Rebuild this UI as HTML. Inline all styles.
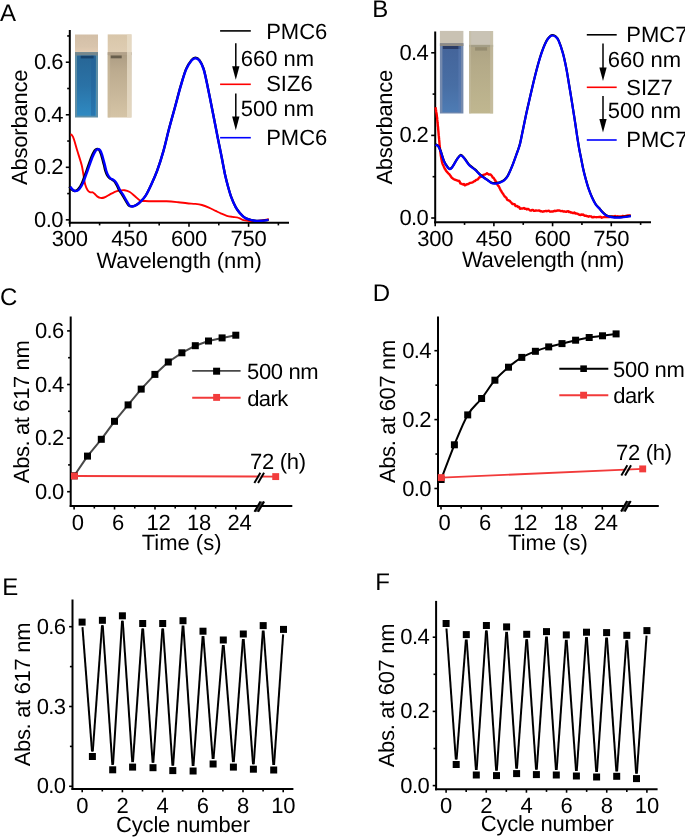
<!DOCTYPE html>
<html><head><meta charset="utf-8"><style>
html,body{margin:0;padding:0;background:#fff;}
body{width:685px;height:838px;overflow:hidden;}
svg{display:block;will-change:transform;}
text{text-rendering:geometricPrecision;font-family:"Liberation Sans", sans-serif;}
</style></head><body>
<svg width="685" height="838" viewBox="0 0 685 838">
<defs><linearGradient id="gA1" x1="0" y1="0" x2="0" y2="1"><stop offset="0" stop-color="#276696"/><stop offset="0.5" stop-color="#2a72a6"/><stop offset="1" stop-color="#2f8ac2"/></linearGradient><linearGradient id="gA1c" x1="0" y1="0" x2="0" y2="1"><stop offset="0" stop-color="#d3bfa7"/><stop offset="0.7" stop-color="#d9c5ad"/><stop offset="1" stop-color="#e3ccb3"/></linearGradient><linearGradient id="gA2" x1="0" y1="0" x2="0" y2="1"><stop offset="0" stop-color="#ab9b82"/><stop offset="0.28" stop-color="#bcab8f"/><stop offset="1" stop-color="#d5c4a6"/></linearGradient><linearGradient id="gA2c" x1="0" y1="0" x2="0" y2="1"><stop offset="0" stop-color="#d8c6aa"/><stop offset="1" stop-color="#dfcdb2"/></linearGradient><linearGradient id="gB1" x1="0" y1="0" x2="0" y2="1"><stop offset="0" stop-color="#44649a"/><stop offset="0.6" stop-color="#486ea4"/><stop offset="1" stop-color="#4e7cb4"/></linearGradient><linearGradient id="gB2" x1="0" y1="0" x2="0" y2="1"><stop offset="0" stop-color="#aca283"/><stop offset="0.3" stop-color="#b4aa88"/><stop offset="1" stop-color="#c0b790"/></linearGradient></defs>
<rect width="685" height="838" fill="#fff"/>
<rect x="75" y="34.5" width="23" height="17.7" fill="url(#gA1c)"/>
<rect x="75" y="52.2" width="23" height="65.3" fill="#5e8ea6"/>
<rect x="75" y="52.2" width="23" height="3.4" fill="#75878d"/>
<rect x="77" y="55.6" width="19" height="60.1" fill="url(#gA1)"/>
<rect x="91" y="55.6" width="4" height="60.1" fill="#22609a" opacity="0.45"/>
<rect x="80.7" y="55.8" width="12.9" height="2.6" fill="#17436d"/>
<rect x="107.7" y="34.4" width="23.8" height="17.8" fill="url(#gA2c)"/>
<rect x="107.7" y="52.2" width="23.8" height="65.3" fill="url(#gA2)"/>
<rect x="107.7" y="52.2" width="23.8" height="2.8" fill="#b3a28a"/>
<rect x="110.7" y="55.5" width="11" height="2.8" fill="#5c5242" opacity="0.85"/>
<rect x="127" y="34.4" width="4.5" height="83.1" fill="#e8ddca" opacity="0.75"/>
<rect x="107.7" y="55.2" width="2.5" height="62.3" fill="#cdbd9f" opacity="0.6"/>
<line x1="69.8" y1="30" x2="69.8" y2="223.8" stroke="#000" stroke-width="2.0"/>
<line x1="68.8" y1="222.8" x2="289" y2="222.8" stroke="#000" stroke-width="2.0"/>
<line x1="65.8" y1="219.85" x2="69.8" y2="219.85" stroke="#000" stroke-width="1.6"/>
<line x1="67.2" y1="193.58" x2="69.8" y2="193.58" stroke="#000" stroke-width="1.6"/>
<line x1="65.8" y1="167.31" x2="69.8" y2="167.31" stroke="#000" stroke-width="1.6"/>
<line x1="67.2" y1="141.04" x2="69.8" y2="141.04" stroke="#000" stroke-width="1.6"/>
<line x1="65.8" y1="114.77" x2="69.8" y2="114.77" stroke="#000" stroke-width="1.6"/>
<line x1="67.2" y1="88.5" x2="69.8" y2="88.5" stroke="#000" stroke-width="1.6"/>
<line x1="65.8" y1="62.23" x2="69.8" y2="62.23" stroke="#000" stroke-width="1.6"/>
<line x1="67.2" y1="35.96" x2="69.8" y2="35.96" stroke="#000" stroke-width="1.6"/>
<line x1="69.8" y1="222.8" x2="69.8" y2="226.8" stroke="#000" stroke-width="1.6"/>
<line x1="99.6" y1="222.8" x2="99.6" y2="225.4" stroke="#000" stroke-width="1.6"/>
<line x1="129.39" y1="222.8" x2="129.39" y2="226.8" stroke="#000" stroke-width="1.6"/>
<line x1="159.19" y1="222.8" x2="159.19" y2="225.4" stroke="#000" stroke-width="1.6"/>
<line x1="188.99" y1="222.8" x2="188.99" y2="226.8" stroke="#000" stroke-width="1.6"/>
<line x1="218.79" y1="222.8" x2="218.79" y2="225.4" stroke="#000" stroke-width="1.6"/>
<line x1="248.58" y1="222.8" x2="248.58" y2="226.8" stroke="#000" stroke-width="1.6"/>
<line x1="278.38" y1="222.8" x2="278.38" y2="225.4" stroke="#000" stroke-width="1.6"/>
<text x="62.8" y="226.85" font-size="22" text-anchor="end" fill="#000" letter-spacing="-0.6">0.0</text>
<text x="62.8" y="174.31" font-size="22" text-anchor="end" fill="#000" letter-spacing="-0.6">0.2</text>
<text x="62.8" y="121.77" font-size="22" text-anchor="end" fill="#000" letter-spacing="-0.6">0.4</text>
<text x="62.8" y="69.23" font-size="22" text-anchor="end" fill="#000" letter-spacing="-0.6">0.6</text>
<text x="69.8" y="246.4" font-size="22" text-anchor="middle" fill="#000" letter-spacing="-0.2">300</text>
<text x="129.39" y="246.4" font-size="22" text-anchor="middle" fill="#000" letter-spacing="-0.2">450</text>
<text x="188.99" y="246.4" font-size="22" text-anchor="middle" fill="#000" letter-spacing="-0.2">600</text>
<text x="248.58" y="246.4" font-size="22" text-anchor="middle" fill="#000" letter-spacing="-0.2">750</text>
<path d="M70.3,134.5 C70.58,134.63 71.38,134.47 72,135.3 C72.62,136.13 73.12,136.92 74,139.5 C74.88,142.08 76.03,146.58 77.3,150.8 C78.57,155.02 80.57,160.77 81.6,164.8 C82.63,168.83 82.92,171.77 83.5,175 C84.08,178.23 84.43,181.72 85.1,184.2 C85.77,186.68 86.7,188.57 87.5,189.9 C88.3,191.23 89.03,191.78 89.9,192.2 C90.77,192.62 91.92,192.13 92.7,192.4 C93.48,192.67 93.8,193.1 94.6,193.8 C95.4,194.5 96.53,195.92 97.5,196.6 C98.47,197.28 99.28,197.75 100.4,197.9 C101.52,198.05 102.6,198.1 104.2,197.5 C105.8,196.9 108.37,195.17 110,194.3 C111.63,193.43 112.5,192.92 114,192.3 C115.5,191.68 117.23,190.95 119,190.6 C120.77,190.25 122.8,189.97 124.6,190.2 C126.4,190.43 128.07,191 129.8,192 C131.53,193 133.3,194.78 135,196.2 C136.7,197.62 138.33,199.7 140,200.5 C141.67,201.3 142.9,200.87 145,201 C147.1,201.13 149,201.25 152.6,201.3 C156.2,201.35 162.33,201.15 166.6,201.3 C170.87,201.45 174.8,201.87 178.2,202.2 C181.6,202.53 184.13,203.02 187,203.3 C189.87,203.58 192.92,203.62 195.4,203.9 C197.88,204.18 199.65,204.38 201.9,205 C204.15,205.62 206.62,206.62 208.9,207.6 C211.18,208.58 213.55,209.9 215.6,210.9 C217.65,211.9 219.33,212.78 221.2,213.6 C223.07,214.42 224.93,215.25 226.8,215.8 C228.67,216.35 230.72,216.63 232.4,216.9 C234.08,217.17 235.58,217.12 236.9,217.4 C238.22,217.68 239.17,218.13 240.3,218.6 C241.43,219.07 242.08,219.8 243.7,220.2 C245.32,220.6 247.72,220.88 250,221 C252.28,221.12 255.23,221.03 257.4,220.9 C259.57,220.77 261.1,220.47 263,220.2 C264.9,219.93 267.83,219.45 268.8,219.3" fill="none" stroke="#f00" stroke-width="1.9" stroke-linejoin="round"/>
<path d="M69.3,186.57 C69.67,187.04 70.63,188.64 71.5,189.38 C72.37,190.11 73.42,190.98 74.5,190.98 C75.58,190.98 76.75,190.73 78,189.38 C79.25,188.02 80.53,186.12 82,182.85 C83.47,179.59 85.22,174.15 86.8,169.8 C88.38,165.45 90.22,159.93 91.5,156.75 C92.78,153.57 93.68,152 94.5,150.72 C95.32,149.45 95.65,149.29 96.4,149.12 C97.15,148.95 98.23,148.87 99,149.72 C99.77,150.57 100.2,151.76 101,154.24 C101.8,156.72 103.1,161.9 103.8,164.58 C104.5,167.26 104.65,168.55 105.2,170.3 C105.75,172.06 106.38,173.8 107.1,175.12 C107.82,176.44 108.7,177.51 109.5,178.23 C110.3,178.95 111.1,178.92 111.9,179.44 C112.7,179.96 113.5,180.39 114.3,181.35 C115.1,182.3 115.92,183.72 116.7,185.16 C117.48,186.6 118.13,188.46 119,189.98 C119.87,191.5 120.9,192.68 121.9,194.3 C122.9,195.92 123.88,197.86 125,199.72 C126.12,201.58 127.51,204.32 128.65,205.44 C129.79,206.56 130.65,206.5 131.84,206.45 C133.03,206.4 134.39,205.91 135.8,205.14 C137.21,204.37 138.65,203.43 140.3,201.83 C141.95,200.22 143.83,198.48 145.7,195.5 C147.57,192.52 149.58,188.12 151.5,183.96 C153.42,179.79 155.23,175.94 157.2,170.5 C159.17,165.07 161.32,158.35 163.3,151.33 C165.28,144.3 167.17,135.68 169.1,128.34 C171.03,120.99 172.98,114.28 174.9,107.25 C176.82,100.22 178.73,92.56 180.6,86.17 C182.47,79.78 184.27,73.28 186.1,68.9 C187.93,64.51 190.05,61.74 191.6,59.86 C193.15,57.99 194.08,57.6 195.4,57.65 C196.72,57.7 198.15,58.37 199.5,60.16 C200.85,61.95 202.28,64.72 203.5,68.4 C204.72,72.08 205.28,75.12 206.8,82.25 C208.32,89.38 211.03,103.27 212.6,111.17 C214.17,119.07 215.23,124.69 216.2,129.64 C217.17,134.59 217.65,137.14 218.4,140.89 C219.15,144.63 219.95,148.37 220.7,152.13 C221.45,155.9 222.17,159.71 222.9,163.48 C223.63,167.24 224.27,170.97 225.1,174.72 C225.93,178.47 226.87,182.22 227.9,185.97 C228.93,189.71 229.98,193.65 231.3,197.21 C232.62,200.77 234.3,204.62 235.8,207.35 C237.3,210.08 238.98,211.99 240.3,213.57 C241.62,215.16 242.4,215.95 243.7,216.89 C245,217.83 246.28,218.56 248.1,219.2 C249.92,219.83 252.35,220.44 254.6,220.7 C256.85,220.97 259.28,220.94 261.6,220.8 C263.92,220.67 267.35,220.05 268.5,219.9" fill="none" stroke="#000" stroke-width="2.3" stroke-linejoin="round"/>
<path d="M70.3,186.7 C70.67,187.17 71.63,188.77 72.5,189.5 C73.37,190.23 74.42,191.1 75.5,191.1 C76.58,191.1 77.75,190.85 79,189.5 C80.25,188.15 81.53,186.25 83,183 C84.47,179.75 86.22,174.33 87.8,170 C89.38,165.67 91.22,160.17 92.5,157 C93.78,153.83 94.68,152.27 95.5,151 C96.32,149.73 96.65,149.57 97.4,149.4 C98.15,149.23 99.23,149.15 100,150 C100.77,150.85 101.2,152.03 102,154.5 C102.8,156.97 104.1,162.13 104.8,164.8 C105.5,167.47 105.65,168.75 106.2,170.5 C106.75,172.25 107.38,173.98 108.1,175.3 C108.82,176.62 109.7,177.68 110.5,178.4 C111.3,179.12 112.1,179.08 112.9,179.6 C113.7,180.12 114.5,180.55 115.3,181.5 C116.1,182.45 116.92,183.87 117.7,185.3 C118.48,186.73 119.13,188.58 120,190.1 C120.87,191.62 121.9,192.78 122.9,194.4 C123.9,196.02 124.9,197.95 126,199.8 C127.1,201.65 128.43,204.38 129.5,205.5 C130.57,206.62 131.32,206.55 132.4,206.5 C133.48,206.45 134.68,205.97 136,205.2 C137.32,204.43 138.68,203.5 140.3,201.9 C141.92,200.3 143.83,198.57 145.7,195.6 C147.57,192.63 149.58,188.25 151.5,184.1 C153.42,179.95 155.23,176.12 157.2,170.7 C159.17,165.28 161.32,158.6 163.3,151.6 C165.28,144.6 167.17,136.02 169.1,128.7 C171.03,121.38 172.98,114.7 174.9,107.7 C176.82,100.7 178.73,93.07 180.6,86.7 C182.47,80.33 184.27,73.87 186.1,69.5 C187.93,65.13 190.05,62.37 191.6,60.5 C193.15,58.63 194.08,58.25 195.4,58.3 C196.72,58.35 198.15,59.02 199.5,60.8 C200.85,62.58 202.28,65.33 203.5,69 C204.72,72.67 205.28,75.7 206.8,82.8 C208.32,89.9 211.03,103.73 212.6,111.6 C214.17,119.47 215.23,125.07 216.2,130 C217.17,134.93 217.65,137.47 218.4,141.2 C219.15,144.93 219.95,148.65 220.7,152.4 C221.45,156.15 222.17,159.95 222.9,163.7 C223.63,167.45 224.27,171.17 225.1,174.9 C225.93,178.63 226.87,182.37 227.9,186.1 C228.93,189.83 229.98,193.75 231.3,197.3 C232.62,200.85 234.3,204.68 235.8,207.4 C237.3,210.12 238.98,212.02 240.3,213.6 C241.62,215.18 242.4,215.97 243.7,216.9 C245,217.83 246.28,218.57 248.1,219.2 C249.92,219.83 252.35,220.43 254.6,220.7 C256.85,220.97 259.28,220.93 261.6,220.8 C263.92,220.67 267.35,220.05 268.5,219.9" fill="none" stroke="#00f" stroke-width="2.4" stroke-linejoin="round"/>
<line x1="220.1" y1="30.9" x2="250.8" y2="30.9" stroke="#000" stroke-width="1.6"/>
<text x="266.2" y="39.3" font-size="22" text-anchor="start" fill="#000">PMC6</text>
<line x1="235.8" y1="43.2" x2="235.8" y2="67.2" stroke="#000" stroke-width="1.5"/>
<path d="M232.15,66.2 L239.45,66.2 L235.8,79.8 Z" fill="#000"/>
<text x="240.8" y="65.9" font-size="22" text-anchor="start" fill="#000">660 nm</text>
<line x1="220.1" y1="84.3" x2="250.8" y2="84.3" stroke="#f00" stroke-width="1.6"/>
<text x="266.2" y="91.1" font-size="22" text-anchor="start" fill="#000">SIZ6</text>
<line x1="235.8" y1="93.6" x2="235.8" y2="117.6" stroke="#000" stroke-width="1.5"/>
<path d="M232.15,116.6 L239.45,116.6 L235.8,130.2 Z" fill="#000"/>
<text x="240.8" y="116" font-size="22" text-anchor="start" fill="#000">500 nm</text>
<line x1="220.1" y1="137.7" x2="250.8" y2="137.7" stroke="#00f" stroke-width="1.6"/>
<text x="266.2" y="144.7" font-size="22" text-anchor="start" fill="#000">PMC6</text>
<text x="26.8" y="127.3" font-size="22" text-anchor="middle" transform="rotate(-90 26.8 127.3)" fill="#000" letter-spacing="-0.22">Absorbance</text>
<text x="179.1" y="267.6" font-size="22" text-anchor="middle" fill="#000" letter-spacing="-0.1">Wavelength (nm)</text>
<text x="0" y="21.4" font-size="24" text-anchor="start" fill="#000">A</text>
<rect x="439.9" y="30.9" width="23.5" height="12.3" fill="#c9c2b3"/>
<rect x="439.9" y="43.2" width="23.5" height="70.3" fill="#7489ad"/>
<rect x="439.9" y="43.2" width="23.5" height="2.8" fill="#8e8b85"/>
<rect x="442.4" y="46" width="18.5" height="66.3" fill="url(#gB1)"/>
<rect x="442.9" y="46" width="17.5" height="3" fill="#2a3c66"/>
<rect x="458.4" y="46" width="2.5" height="66.3" fill="#5b7cb0" opacity="0.6"/>
<rect x="469.1" y="31" width="24" height="13.8" fill="#c9c3b5"/>
<rect x="469.1" y="44.8" width="24" height="68.7" fill="url(#gB2)"/>
<rect x="469.1" y="44.8" width="24" height="2.2" fill="#a49e86"/>
<rect x="475.1" y="47.2" width="12" height="3.4" fill="#8a8268" opacity="0.7"/>
<rect x="490.1" y="31" width="3" height="82.5" fill="#c9c2a6" opacity="0.6"/>
<rect x="469.1" y="31" width="2" height="82.5" fill="#c4bca0" opacity="0.5"/>
<line x1="435.2" y1="31.5" x2="435.2" y2="223.3" stroke="#000" stroke-width="2.0"/>
<line x1="434.2" y1="222.3" x2="651" y2="222.3" stroke="#000" stroke-width="2.0"/>
<line x1="431.2" y1="218" x2="435.2" y2="218" stroke="#000" stroke-width="1.6"/>
<line x1="432.6" y1="176.7" x2="435.2" y2="176.7" stroke="#000" stroke-width="1.6"/>
<line x1="431.2" y1="135.4" x2="435.2" y2="135.4" stroke="#000" stroke-width="1.6"/>
<line x1="432.6" y1="94.1" x2="435.2" y2="94.1" stroke="#000" stroke-width="1.6"/>
<line x1="431.2" y1="52.8" x2="435.2" y2="52.8" stroke="#000" stroke-width="1.6"/>
<line x1="435.2" y1="222.3" x2="435.2" y2="226.3" stroke="#000" stroke-width="1.6"/>
<line x1="464.55" y1="222.3" x2="464.55" y2="224.9" stroke="#000" stroke-width="1.6"/>
<line x1="493.89" y1="222.3" x2="493.89" y2="226.3" stroke="#000" stroke-width="1.6"/>
<line x1="523.24" y1="222.3" x2="523.24" y2="224.9" stroke="#000" stroke-width="1.6"/>
<line x1="552.59" y1="222.3" x2="552.59" y2="226.3" stroke="#000" stroke-width="1.6"/>
<line x1="581.94" y1="222.3" x2="581.94" y2="224.9" stroke="#000" stroke-width="1.6"/>
<line x1="611.28" y1="222.3" x2="611.28" y2="226.3" stroke="#000" stroke-width="1.6"/>
<line x1="640.63" y1="222.3" x2="640.63" y2="224.9" stroke="#000" stroke-width="1.6"/>
<text x="428.2" y="225" font-size="22" text-anchor="end" fill="#000" letter-spacing="-0.6">0.0</text>
<text x="428.2" y="142.4" font-size="22" text-anchor="end" fill="#000" letter-spacing="-0.6">0.2</text>
<text x="428.2" y="59.8" font-size="22" text-anchor="end" fill="#000" letter-spacing="-0.6">0.4</text>
<text x="435.2" y="245.9" font-size="22" text-anchor="middle" fill="#000" letter-spacing="-0.2">300</text>
<text x="493.89" y="245.9" font-size="22" text-anchor="middle" fill="#000" letter-spacing="-0.2">450</text>
<text x="552.59" y="245.9" font-size="22" text-anchor="middle" fill="#000" letter-spacing="-0.2">600</text>
<text x="611.28" y="245.9" font-size="22" text-anchor="middle" fill="#000" letter-spacing="-0.2">750</text>
<path d="M435.5,107.3 L435.58,107.82 L435.69,108.48 L435.82,109.25 L435.97,109.72 L436.12,111.18 L436.29,112.38 L436.45,112.94 L436.61,113.75 L436.76,115.22 L436.9,116.45 L437,117.47 L437.1,117.57 L437.19,118.41 L437.28,119.93 L437.38,120.76 L437.47,122.02 L437.56,122.78 L437.65,123.37 L437.74,124.27 L437.83,126.14 L437.92,126.18 L438.01,126.99 L438.1,127.84 L438.19,129.13 L438.27,130.07 L438.36,130.84 L438.44,131.87 L438.53,132.93 L438.61,134.01 L438.7,135.1 L438.79,135.77 L438.87,136.09 L438.96,137.83 L439.04,138.1 L439.13,139.43 L439.21,139.93 L439.3,141.3 L439.39,142.01 L439.48,143.29 L439.56,145.23 L439.65,145.11 L439.73,146.34 L439.82,146.58 L439.91,147.84 L439.99,149.06 L440.09,149.72 L440.18,150.75 L440.28,151.54 L440.39,152.04 L440.5,153.38 L440.65,154.01 L440.81,155.93 L440.98,156.22 L441.15,157.62 L441.33,158.4 L441.51,159.67 L441.7,160.1 L441.89,161.5 L442.09,161.98 L442.3,163.2 L442.67,164.18 L443.06,165.06 L443.47,165.68 L443.89,167.01 L444.3,167.7 L444.7,168.83 L445.23,169.15 L445.71,170.23 L446.26,171 L447,171.89 L447.56,172.57 L448.21,173.35 L448.92,173.95 L449.66,174.68 L450.39,175.7 L451.08,176.76 L451.7,177.68 L452.64,178.34 L453.49,178.97 L454.26,179.35 L455,179.72 L456.36,180.07 L457.5,180.55 L458.32,181.04 L459,180.7 L459.63,181.52 L460.4,183.43 L461.17,183.43 L462.08,184.16 L463,184.48 L463.87,184.03 L464.75,185.23 L465.7,184.97 L466.74,184.29 L467.85,184.2 L469,183.64 L469.85,183.02 L470.69,182.93 L471.62,182.67 L472.7,182.36 L473.43,181.82 L474.24,181.15 L475.1,181.06 L475.98,179.84 L476.86,179.79 L477.71,179.36 L478.5,178.41 L479.37,177.34 L480.22,177.01 L481.04,176.78 L481.81,176.3 L482.54,176.12 L483.2,174.88 L484.27,174.64 L485.12,174.53 L486,174.05 L487,173.14 L488.03,174.05 L489,174.64 L489.84,174.56 L490.62,174.49 L491.5,175.47 L492.08,176.23 L492.68,177.56 L493.32,177.68 L494.05,178.47 L494.9,180.2 L495.27,180.28 L495.67,181.59 L496.09,181.53 L496.54,182.42 L497,183.65 L497.47,184.76 L497.95,185.42 L498.43,186.21 L498.9,186.42 L499.37,187.64 L499.83,188.51 L500.28,189.31 L500.7,190.39 L501.29,191.05 L501.86,192.33 L502.42,192.99 L502.97,193.69 L503.51,194.63 L504.04,195.49 L504.56,196.35 L505.08,196.6 L505.6,197.33 L506.34,197.82 L507.04,199.49 L507.72,200.08 L508.42,200.16 L509.17,200.68 L510,201.1 L510.7,202.11 L511.46,202.72 L512.25,203.97 L513.07,203.96 L513.9,204.23 L514.71,204.26 L515.48,206.01 L516.2,206.06 L517.23,206.06 L518.17,207.07 L519.08,206.86 L520,208.8 L521,208.36 L521.92,208.44 L522.88,208.44 L523.88,208.03 L524.87,208.87 L525.86,208.61 L526.8,209.49 L527.88,208.84 L528.92,209.46 L529.94,210.34 L530.96,210.66 L532,209.92 L532.97,209.94 L533.86,210.82 L534.79,210.9 L535.9,210.39 L537.3,210.58 L538.06,210.63 L538.9,210.52 L539.81,210.74 L540.76,211.42 L541.76,211.3 L542.78,211.79 L543.82,211.16 L544.87,211.19 L545.9,210.95 L546.92,211.25 L547.9,210.88 L548.86,210.72 L549.83,211.49 L550.79,211.68 L551.75,211.43 L552.72,211.53 L553.68,211.12 L554.65,210.75 L555.61,210.96 L556.57,210.78 L557.54,210.53 L558.5,210.36 L559.46,210.46 L560.43,210.97 L561.39,211.08 L562.35,210.94 L563.32,211.63 L564.28,211.32 L565.25,211.55 L566.21,211.86 L567.17,211.34 L568.14,211.11 L569.1,212.14 L569.98,211.84 L570.87,212.67 L571.75,212.56 L572.63,212.99 L573.52,213.14 L574.4,212.47 L575.28,213.6 L576.17,213.4 L577.05,213.61 L577.93,213.94 L578.82,214.54 L579.7,214.78 L580.58,215.02 L581.47,214.37 L582.35,214.91 L583.24,214.53 L584.12,215.45 L585.01,215.87 L585.89,215.61 L586.77,216.11 L587.66,216.27 L588.54,216.67 L589.42,216.22 L590.3,216.33 L591.26,216.47 L592.21,217.37 L593.17,217.25 L594.12,216.93 L595.07,217.1 L596.03,217.12 L596.98,217.18 L597.93,217.08 L598.89,217.07 L599.84,216.79 L600.8,216.99 L601.77,217.73 L602.75,217.36 L603.74,217.18 L604.73,217.06 L605.72,217.11 L606.71,217.15 L607.69,216.78 L608.65,217 L609.59,216.96 L610.51,216.6 L611.4,216.55 L612.43,216.44 L613.4,216.38 L614.33,216.96 L615.23,215.88 L616.13,216.51 L617.04,216.36 L617.97,216.31 L618.95,216.49 L620,216.76 L620.86,216.37 L621.81,216.25 L622.82,216.03 L623.87,216.12 L624.93,216.39 L625.99,215.9 L627.01,215.59 L627.99,215.49 L628.89,215.48 L629.69,215.33 L630.37,215.73 L630.9,215.7" fill="none" stroke="#f00" stroke-width="2.4" stroke-linejoin="round"/>
<path d="M435.5,144.3 C435.93,144.53 437.27,144.67 438.1,145.7 C438.93,146.73 439.5,147.92 440.5,150.5 C441.5,153.08 443.02,158.6 444.1,161.2 C445.18,163.8 446.1,164.83 447,166.1 C447.9,167.37 448.75,168.5 449.5,168.8 C450.25,169.1 450.82,168.57 451.5,167.9 C452.18,167.23 452.65,166.32 453.6,164.8 C454.55,163.28 456,160.45 457.2,158.8 C458.4,157.15 459.6,155 460.8,154.9 C462,154.8 463,156.55 464.4,158.2 C465.8,159.85 467.43,162.93 469.2,164.8 C470.97,166.67 473.05,167.67 475,169.4 C476.95,171.13 478.95,173.55 480.9,175.2 C482.85,176.85 485.15,178.18 486.7,179.3 C488.25,180.42 489.13,181.27 490.2,181.9 C491.27,182.53 491.93,182.93 493.1,183.1 C494.27,183.27 495.93,183.1 497.2,182.9 C498.47,182.7 499.53,182.4 500.7,181.9 C501.87,181.4 503.03,180.92 504.2,179.9 C505.37,178.88 506.33,178.23 507.7,175.8 C509.07,173.37 510.83,169.2 512.4,165.3 C513.97,161.4 515.87,155.88 517.1,152.4 C518.33,148.92 518.88,147.92 519.8,144.4 C520.72,140.88 521.57,136.23 522.6,131.3 C523.63,126.37 524.87,120.07 526,114.8 C527.13,109.53 528.25,104.73 529.4,99.7 C530.55,94.67 531.75,89.42 532.9,84.6 C534.05,79.78 535.17,75.15 536.3,70.8 C537.43,66.45 538.55,62.27 539.7,58.5 C540.85,54.73 542.05,51.18 543.2,48.2 C544.35,45.22 545.47,42.6 546.6,40.6 C547.73,38.6 548.97,37.12 550,36.2 C551.03,35.28 551.87,35.07 552.8,35.1 C553.73,35.13 554.62,35.48 555.6,36.4 C556.58,37.32 557.48,37.83 558.7,40.6 C559.92,43.37 561.63,48.42 562.9,53 C564.17,57.58 565.27,62.83 566.3,68.1 C567.33,73.37 568.18,79.1 569.1,84.6 C570.02,90.1 570.88,95.38 571.8,101.1 C572.72,106.82 573.68,112.9 574.6,118.9 C575.52,124.9 576.52,132.05 577.3,137.1 C578.08,142.15 578.63,145.52 579.3,149.2 C579.97,152.88 580.65,155.93 581.3,159.2 C581.95,162.47 582.47,165.55 583.2,168.8 C583.93,172.05 584.8,175.42 585.7,178.7 C586.6,181.98 587.55,185.43 588.6,188.5 C589.65,191.57 590.78,194.43 592,197.1 C593.22,199.77 594.67,202.65 595.9,204.5 C597.13,206.35 598.33,206.98 599.4,208.2 C600.47,209.42 601.17,210.65 602.3,211.8 C603.43,212.95 604.73,214.28 606.2,215.1 C607.67,215.92 608.8,216.35 611.1,216.7 C613.4,217.05 616.7,217.35 620,217.2 C623.3,217.05 629.08,216.03 630.9,215.8" fill="none" stroke="#000" stroke-width="2.2" stroke-linejoin="round"/>
<path d="M435.5,144.7 C435.93,144.93 437.27,145.07 438.1,146.1 C438.93,147.13 439.5,148.32 440.5,150.9 C441.5,153.48 443.02,159 444.1,161.6 C445.18,164.2 446.1,165.23 447,166.5 C447.9,167.77 448.75,168.9 449.5,169.2 C450.25,169.5 450.82,168.97 451.5,168.3 C452.18,167.63 452.65,166.72 453.6,165.2 C454.55,163.68 456,160.85 457.2,159.2 C458.4,157.55 459.6,155.4 460.8,155.3 C462,155.2 463,156.95 464.4,158.6 C465.8,160.25 467.43,163.33 469.2,165.2 C470.97,167.07 473.05,168.07 475,169.8 C476.95,171.53 478.95,173.95 480.9,175.6 C482.85,177.25 485.15,178.58 486.7,179.7 C488.25,180.82 489.13,181.67 490.2,182.3 C491.27,182.93 491.93,183.33 493.1,183.5 C494.27,183.67 495.93,183.5 497.2,183.3 C498.47,183.1 499.53,182.8 500.7,182.3 C501.87,181.8 503.03,181.32 504.2,180.3 C505.37,179.28 506.33,178.63 507.7,176.2 C509.07,173.77 510.83,169.6 512.4,165.7 C513.97,161.8 515.87,156.28 517.1,152.8 C518.33,149.32 518.88,148.32 519.8,144.8 C520.72,141.28 521.57,136.63 522.6,131.7 C523.63,126.77 524.87,120.47 526,115.2 C527.13,109.93 528.25,105.13 529.4,100.1 C530.55,95.07 531.75,89.82 532.9,85 C534.05,80.18 535.17,75.55 536.3,71.2 C537.43,66.85 538.55,62.67 539.7,58.9 C540.85,55.13 542.05,51.58 543.2,48.6 C544.35,45.62 545.47,43 546.6,41 C547.73,39 548.97,37.52 550,36.6 C551.03,35.68 551.87,35.47 552.8,35.5 C553.73,35.53 554.62,35.88 555.6,36.8 C556.58,37.72 557.48,38.23 558.7,41 C559.92,43.77 561.63,48.82 562.9,53.4 C564.17,57.98 565.27,63.23 566.3,68.5 C567.33,73.77 568.18,79.5 569.1,85 C570.02,90.5 570.88,95.78 571.8,101.5 C572.72,107.22 573.68,113.3 574.6,119.3 C575.52,125.3 576.52,132.45 577.3,137.5 C578.08,142.55 578.63,145.92 579.3,149.6 C579.97,153.28 580.65,156.33 581.3,159.6 C581.95,162.87 582.47,165.95 583.2,169.2 C583.93,172.45 584.8,175.82 585.7,179.1 C586.6,182.38 587.55,185.83 588.6,188.9 C589.65,191.97 590.78,194.83 592,197.5 C593.22,200.17 594.67,203.05 595.9,204.9 C597.13,206.75 598.33,207.38 599.4,208.6 C600.47,209.82 601.17,211.05 602.3,212.2 C603.43,213.35 604.73,214.68 606.2,215.5 C607.67,216.32 608.8,216.75 611.1,217.1 C613.4,217.45 616.7,217.75 620,217.6 C623.3,217.45 629.08,216.43 630.9,216.2" fill="none" stroke="#00f" stroke-width="2.2" stroke-linejoin="round"/>
<line x1="586.8" y1="34.8" x2="616.7" y2="34.8" stroke="#000" stroke-width="1.6"/>
<text x="626.3" y="42.1" font-size="22" text-anchor="start" fill="#000">PMC7</text>
<line x1="603" y1="43.4" x2="603" y2="68.4" stroke="#000" stroke-width="1.5"/>
<path d="M599.35,67.4 L606.65,67.4 L603,81 Z" fill="#000"/>
<text x="607.8" y="66.7" font-size="22" text-anchor="start" fill="#000">660 nm</text>
<line x1="586.8" y1="87.3" x2="616.7" y2="87.3" stroke="#f00" stroke-width="1.6"/>
<text x="626.3" y="94.9" font-size="22" text-anchor="start" fill="#000">SIZ7</text>
<line x1="603" y1="96" x2="603" y2="120" stroke="#000" stroke-width="1.5"/>
<path d="M599.35,119 L606.65,119 L603,132.6 Z" fill="#000"/>
<text x="607.8" y="118.3" font-size="22" text-anchor="start" fill="#000">500 nm</text>
<line x1="586.8" y1="140" x2="616.7" y2="140" stroke="#00f" stroke-width="1.6"/>
<text x="626.3" y="147.3" font-size="22" text-anchor="start" fill="#000">PMC7</text>
<text x="392.5" y="127.3" font-size="22" text-anchor="middle" transform="rotate(-90 392.5 127.3)" fill="#000" letter-spacing="-0.3">Absorbance</text>
<text x="543" y="266.6" font-size="22" text-anchor="middle" fill="#000" letter-spacing="-0.3">Wavelength (nm)</text>
<text x="372.2" y="16.6" font-size="24" text-anchor="start" fill="#000">B</text>
<line x1="70.7" y1="316.5" x2="70.7" y2="506.9" stroke="#000" stroke-width="2.0"/>
<line x1="69.7" y1="505.9" x2="292.3" y2="505.9" stroke="#000" stroke-width="2.0"/>
<line x1="67.1" y1="491.7" x2="70.7" y2="491.7" stroke="#000" stroke-width="1.6"/>
<line x1="68.1" y1="464.9" x2="70.7" y2="464.9" stroke="#000" stroke-width="1.6"/>
<line x1="67.1" y1="438.1" x2="70.7" y2="438.1" stroke="#000" stroke-width="1.6"/>
<line x1="68.1" y1="411.3" x2="70.7" y2="411.3" stroke="#000" stroke-width="1.6"/>
<line x1="67.1" y1="384.5" x2="70.7" y2="384.5" stroke="#000" stroke-width="1.6"/>
<line x1="68.1" y1="357.7" x2="70.7" y2="357.7" stroke="#000" stroke-width="1.6"/>
<line x1="67.1" y1="330.9" x2="70.7" y2="330.9" stroke="#000" stroke-width="1.6"/>
<line x1="74.1" y1="505.9" x2="74.1" y2="509.5" stroke="#000" stroke-width="1.6"/>
<line x1="94.32" y1="505.9" x2="94.32" y2="508.5" stroke="#000" stroke-width="1.6"/>
<line x1="114.54" y1="505.9" x2="114.54" y2="509.5" stroke="#000" stroke-width="1.6"/>
<line x1="134.76" y1="505.9" x2="134.76" y2="508.5" stroke="#000" stroke-width="1.6"/>
<line x1="154.98" y1="505.9" x2="154.98" y2="509.5" stroke="#000" stroke-width="1.6"/>
<line x1="175.2" y1="505.9" x2="175.2" y2="508.5" stroke="#000" stroke-width="1.6"/>
<line x1="195.42" y1="505.9" x2="195.42" y2="509.5" stroke="#000" stroke-width="1.6"/>
<line x1="215.64" y1="505.9" x2="215.64" y2="508.5" stroke="#000" stroke-width="1.6"/>
<line x1="235.86" y1="505.9" x2="235.86" y2="509.5" stroke="#000" stroke-width="1.6"/>
<text x="63.7" y="498.7" font-size="22" text-anchor="end" fill="#000" letter-spacing="-0.6">0.0</text>
<text x="63.7" y="445.1" font-size="22" text-anchor="end" fill="#000" letter-spacing="-0.6">0.2</text>
<text x="63.7" y="391.5" font-size="22" text-anchor="end" fill="#000" letter-spacing="-0.6">0.4</text>
<text x="63.7" y="337.9" font-size="22" text-anchor="end" fill="#000" letter-spacing="-0.6">0.6</text>
<text x="77.7" y="529.5" font-size="22" text-anchor="middle" fill="#000" letter-spacing="-0.2">0</text>
<text x="118.14" y="529.5" font-size="22" text-anchor="middle" fill="#000" letter-spacing="-0.2">6</text>
<text x="158.58" y="529.5" font-size="22" text-anchor="middle" fill="#000" letter-spacing="-0.2">12</text>
<text x="199.02" y="529.5" font-size="22" text-anchor="middle" fill="#000" letter-spacing="-0.2">18</text>
<text x="239.46" y="529.5" font-size="22" text-anchor="middle" fill="#000" letter-spacing="-0.2">24</text>
<path d="M254.45,511.8 L260.45,501.4 L264.15,501.4 L258.15,511.8 Z" fill="#333" opacity="0.9"/>
<line x1="254.45" y1="511.8" x2="260.45" y2="501.4" stroke="#000" stroke-width="1.95"/>
<line x1="258.15" y1="511.8" x2="264.15" y2="501.4" stroke="#000" stroke-width="1.95"/>
<path d="M74.2,475.8 L87.5,456.1 L101.3,439.3 L114.5,421.3 L128.1,404.9 L141.2,389.1 L154.9,374.4 L168.3,362 L181.9,352.8 L195.3,345.7 L208.5,341 L222.1,337.9 L235.8,335.2" fill="none" stroke="#484848" stroke-width="2.0" stroke-linejoin="round"/>
<rect x="70.7" y="472.3" width="7" height="7" fill="#000"/>
<rect x="84" y="452.6" width="7" height="7" fill="#000"/>
<rect x="97.8" y="435.8" width="7" height="7" fill="#000"/>
<rect x="111" y="417.8" width="7" height="7" fill="#000"/>
<rect x="124.6" y="401.4" width="7" height="7" fill="#000"/>
<rect x="137.7" y="385.6" width="7" height="7" fill="#000"/>
<rect x="151.4" y="370.9" width="7" height="7" fill="#000"/>
<rect x="164.8" y="358.5" width="7" height="7" fill="#000"/>
<rect x="178.4" y="349.3" width="7" height="7" fill="#000"/>
<rect x="191.8" y="342.2" width="7" height="7" fill="#000"/>
<rect x="205" y="337.5" width="7" height="7" fill="#000"/>
<rect x="218.6" y="334.4" width="7" height="7" fill="#000"/>
<rect x="232.3" y="331.7" width="7" height="7" fill="#000"/>
<line x1="74.4" y1="476" x2="275.7" y2="476.6" stroke="#f23a3a" stroke-width="1.9"/>
<rect x="70.95" y="472.55" width="6.9" height="6.9" fill="#f23c3c"/>
<rect x="272.25" y="473.15" width="6.9" height="6.9" fill="#f23c3c"/>
<path d="M254.35,483.1 L260.35,472.7 L264.05,472.7 L258.05,483.1 Z" fill="#fff" opacity="0.7"/>
<line x1="254.35" y1="483.1" x2="260.35" y2="472.7" stroke="#000" stroke-width="1.95"/>
<line x1="258.05" y1="483.1" x2="264.05" y2="472.7" stroke="#000" stroke-width="1.95"/>
<line x1="192.2" y1="370.9" x2="240.6" y2="370.9" stroke="#484848" stroke-width="1.8"/>
<rect x="213.1" y="367.7" width="7" height="7" fill="#000"/>
<text x="247" y="379" font-size="22" text-anchor="start" fill="#000" letter-spacing="-0.35">500 nm</text>
<line x1="192.2" y1="397.8" x2="240.6" y2="397.8" stroke="#f23a3a" stroke-width="2.0"/>
<rect x="213.15" y="393.95" width="6.9" height="6.9" fill="#f23c3c"/>
<text x="247.2" y="405.6" font-size="22" text-anchor="start" fill="#000" letter-spacing="-0.55">dark</text>
<text x="250" y="468.6" font-size="22" text-anchor="start" fill="#000" letter-spacing="-0.3">72 (h)</text>
<text x="28.6" y="411.9" font-size="22" text-anchor="middle" transform="rotate(-90 28.6 411.9)" fill="#000" letter-spacing="-0.39">Abs. at 617 nm</text>
<text x="181.6" y="550.4" font-size="22" text-anchor="middle" fill="#000">Time (s)</text>
<text x="0" y="305" font-size="24" text-anchor="start" fill="#000">C</text>
<line x1="438" y1="316.5" x2="438" y2="507" stroke="#000" stroke-width="2.0"/>
<line x1="437" y1="506" x2="658.8" y2="506" stroke="#000" stroke-width="2.0"/>
<line x1="434.4" y1="488.5" x2="438" y2="488.5" stroke="#000" stroke-width="1.6"/>
<line x1="435.4" y1="454.05" x2="438" y2="454.05" stroke="#000" stroke-width="1.6"/>
<line x1="434.4" y1="419.6" x2="438" y2="419.6" stroke="#000" stroke-width="1.6"/>
<line x1="435.4" y1="385.15" x2="438" y2="385.15" stroke="#000" stroke-width="1.6"/>
<line x1="434.4" y1="350.7" x2="438" y2="350.7" stroke="#000" stroke-width="1.6"/>
<line x1="441" y1="506" x2="441" y2="509.6" stroke="#000" stroke-width="1.6"/>
<line x1="461.16" y1="506" x2="461.16" y2="508.6" stroke="#000" stroke-width="1.6"/>
<line x1="481.32" y1="506" x2="481.32" y2="509.6" stroke="#000" stroke-width="1.6"/>
<line x1="501.48" y1="506" x2="501.48" y2="508.6" stroke="#000" stroke-width="1.6"/>
<line x1="521.64" y1="506" x2="521.64" y2="509.6" stroke="#000" stroke-width="1.6"/>
<line x1="541.8" y1="506" x2="541.8" y2="508.6" stroke="#000" stroke-width="1.6"/>
<line x1="561.96" y1="506" x2="561.96" y2="509.6" stroke="#000" stroke-width="1.6"/>
<line x1="582.12" y1="506" x2="582.12" y2="508.6" stroke="#000" stroke-width="1.6"/>
<line x1="602.28" y1="506" x2="602.28" y2="509.6" stroke="#000" stroke-width="1.6"/>
<text x="431" y="495.5" font-size="22" text-anchor="end" fill="#000" letter-spacing="-0.6">0.0</text>
<text x="431" y="426.6" font-size="22" text-anchor="end" fill="#000" letter-spacing="-0.6">0.2</text>
<text x="431" y="357.7" font-size="22" text-anchor="end" fill="#000" letter-spacing="-0.6">0.4</text>
<text x="444.6" y="529.6" font-size="22" text-anchor="middle" fill="#000" letter-spacing="-0.2">0</text>
<text x="484.92" y="529.6" font-size="22" text-anchor="middle" fill="#000" letter-spacing="-0.2">6</text>
<text x="525.24" y="529.6" font-size="22" text-anchor="middle" fill="#000" letter-spacing="-0.2">12</text>
<text x="565.56" y="529.6" font-size="22" text-anchor="middle" fill="#000" letter-spacing="-0.2">18</text>
<text x="605.88" y="529.6" font-size="22" text-anchor="middle" fill="#000" letter-spacing="-0.2">24</text>
<path d="M621.05,511.4 L627.05,501 L630.75,501 L624.75,511.4 Z" fill="#333" opacity="0.9"/>
<line x1="621.05" y1="511.4" x2="627.05" y2="501" stroke="#000" stroke-width="1.95"/>
<line x1="624.75" y1="511.4" x2="630.75" y2="501" stroke="#000" stroke-width="1.95"/>
<path d="M441.1,479.5 C443.32,473.72 449.97,455.57 454.4,444.8 C458.83,434.03 463.17,422.62 467.7,414.9 C472.23,407.18 477.07,404.28 481.6,398.5 C486.13,392.72 490.42,385.42 494.9,380.2 C499.38,374.98 504.02,371 508.5,367.2 C512.98,363.4 517.32,360.05 521.8,357.4 C526.28,354.75 530.92,353.05 535.4,351.3 C539.88,349.55 544.27,348.18 548.7,346.9 C553.13,345.62 557.52,344.72 562,343.6 C566.48,342.48 571.07,341.22 575.6,340.2 C580.13,339.18 584.72,338.23 589.2,337.5 C593.68,336.77 598.02,336.4 602.5,335.8 C606.98,335.2 613.83,334.22 616.1,333.9" fill="none" stroke="#000" stroke-width="2"/>
<rect x="437.6" y="476" width="7" height="7" fill="#000"/>
<rect x="450.9" y="441.3" width="7" height="7" fill="#000"/>
<rect x="464.2" y="411.4" width="7" height="7" fill="#000"/>
<rect x="478.1" y="395" width="7" height="7" fill="#000"/>
<rect x="491.4" y="376.7" width="7" height="7" fill="#000"/>
<rect x="505" y="363.7" width="7" height="7" fill="#000"/>
<rect x="518.3" y="353.9" width="7" height="7" fill="#000"/>
<rect x="531.9" y="347.8" width="7" height="7" fill="#000"/>
<rect x="545.2" y="343.4" width="7" height="7" fill="#000"/>
<rect x="558.5" y="340.1" width="7" height="7" fill="#000"/>
<rect x="572.1" y="336.7" width="7" height="7" fill="#000"/>
<rect x="585.7" y="334" width="7" height="7" fill="#000"/>
<rect x="599" y="332.3" width="7" height="7" fill="#000"/>
<rect x="612.6" y="330.4" width="7" height="7" fill="#000"/>
<line x1="441.3" y1="477.6" x2="642.7" y2="468.9" stroke="#f23a3a" stroke-width="1.9"/>
<rect x="437.85" y="474.15" width="6.9" height="6.9" fill="#f23c3c"/>
<rect x="639.25" y="465.45" width="6.9" height="6.9" fill="#f23c3c"/>
<path d="M621.35,475.6 L627.35,465.2 L631.05,465.2 L625.05,475.6 Z" fill="#fff" opacity="0.7"/>
<line x1="621.35" y1="475.6" x2="627.35" y2="465.2" stroke="#000" stroke-width="1.95"/>
<line x1="625.05" y1="475.6" x2="631.05" y2="465.2" stroke="#000" stroke-width="1.95"/>
<line x1="559.3" y1="368.8" x2="608.3" y2="368.8" stroke="#000" stroke-width="2"/>
<rect x="580.3" y="365.4" width="6.6" height="6.6" fill="#000"/>
<text x="613.1" y="377" font-size="22" text-anchor="start" fill="#000" letter-spacing="-0.33">500 nm</text>
<line x1="559.3" y1="395.2" x2="608.3" y2="395.2" stroke="#f23a3a" stroke-width="2.0"/>
<rect x="580.15" y="391.75" width="6.9" height="6.9" fill="#f23c3c"/>
<text x="613.3" y="403" font-size="22" text-anchor="start" fill="#000" letter-spacing="-0.53">dark</text>
<text x="616" y="460.3" font-size="22" text-anchor="start" fill="#000" letter-spacing="-0.3">72 (h)</text>
<text x="395.2" y="411.6" font-size="22" text-anchor="middle" transform="rotate(-90 395.2 411.6)" fill="#000" letter-spacing="-0.36">Abs. at 607 nm</text>
<text x="548" y="550.4" font-size="22" text-anchor="middle" fill="#000">Time (s)</text>
<text x="372.8" y="300.7" font-size="24" text-anchor="start" fill="#000">D</text>
<line x1="72.5" y1="599.5" x2="72.5" y2="789.9" stroke="#000" stroke-width="2.0"/>
<line x1="71.5" y1="788.9" x2="293.4" y2="788.9" stroke="#000" stroke-width="2.0"/>
<line x1="69.1" y1="786.3" x2="72.5" y2="786.3" stroke="#000" stroke-width="1.6"/>
<line x1="69.9" y1="746.4" x2="72.5" y2="746.4" stroke="#000" stroke-width="1.6"/>
<line x1="69.1" y1="706.5" x2="72.5" y2="706.5" stroke="#000" stroke-width="1.6"/>
<line x1="69.9" y1="666.6" x2="72.5" y2="666.6" stroke="#000" stroke-width="1.6"/>
<line x1="69.1" y1="626.7" x2="72.5" y2="626.7" stroke="#000" stroke-width="1.6"/>
<line x1="82.2" y1="788.9" x2="82.2" y2="792.3" stroke="#000" stroke-width="1.6"/>
<line x1="102.3" y1="788.9" x2="102.3" y2="791.5" stroke="#000" stroke-width="1.6"/>
<line x1="122.4" y1="788.9" x2="122.4" y2="792.3" stroke="#000" stroke-width="1.6"/>
<line x1="142.5" y1="788.9" x2="142.5" y2="791.5" stroke="#000" stroke-width="1.6"/>
<line x1="162.6" y1="788.9" x2="162.6" y2="792.3" stroke="#000" stroke-width="1.6"/>
<line x1="182.7" y1="788.9" x2="182.7" y2="791.5" stroke="#000" stroke-width="1.6"/>
<line x1="202.8" y1="788.9" x2="202.8" y2="792.3" stroke="#000" stroke-width="1.6"/>
<line x1="222.9" y1="788.9" x2="222.9" y2="791.5" stroke="#000" stroke-width="1.6"/>
<line x1="243" y1="788.9" x2="243" y2="792.3" stroke="#000" stroke-width="1.6"/>
<line x1="263.1" y1="788.9" x2="263.1" y2="791.5" stroke="#000" stroke-width="1.6"/>
<line x1="283.2" y1="788.9" x2="283.2" y2="792.3" stroke="#000" stroke-width="1.6"/>
<text x="65.5" y="793.3" font-size="22" text-anchor="end" fill="#000" letter-spacing="-0.6">0.0</text>
<text x="65.5" y="713.5" font-size="22" text-anchor="end" fill="#000" letter-spacing="-0.6">0.3</text>
<text x="65.5" y="633.7" font-size="22" text-anchor="end" fill="#000" letter-spacing="-0.6">0.6</text>
<text x="82.2" y="812.5" font-size="22" text-anchor="middle" fill="#000" letter-spacing="-0.2">0</text>
<text x="122.4" y="812.5" font-size="22" text-anchor="middle" fill="#000" letter-spacing="-0.2">2</text>
<text x="162.6" y="812.5" font-size="22" text-anchor="middle" fill="#000" letter-spacing="-0.2">4</text>
<text x="202.8" y="812.5" font-size="22" text-anchor="middle" fill="#000" letter-spacing="-0.2">6</text>
<text x="243" y="812.5" font-size="22" text-anchor="middle" fill="#000" letter-spacing="-0.2">8</text>
<text x="283.2" y="812.5" font-size="22" text-anchor="middle" fill="#000" letter-spacing="-0.2">10</text>
<line x1="82.48" y1="627.09" x2="92.02" y2="751.51" stroke="#000" stroke-width="2.0"/>
<line x1="92.77" y1="751.51" x2="102.03" y2="625.29" stroke="#000" stroke-width="2.0"/>
<line x1="102.74" y1="625.29" x2="112.36" y2="764.81" stroke="#000" stroke-width="2.0"/>
<line x1="113.01" y1="764.81" x2="122.09" y2="620.79" stroke="#000" stroke-width="2.0"/>
<line x1="122.74" y1="620.79" x2="132.26" y2="762.11" stroke="#000" stroke-width="2.0"/>
<line x1="132.95" y1="762.11" x2="142.35" y2="628.49" stroke="#000" stroke-width="2.0"/>
<line x1="143.06" y1="628.49" x2="152.64" y2="762.71" stroke="#000" stroke-width="2.0"/>
<line x1="153.34" y1="762.71" x2="162.36" y2="628.49" stroke="#000" stroke-width="2.0"/>
<line x1="163.04" y1="628.49" x2="172.46" y2="765.61" stroke="#000" stroke-width="2.0"/>
<line x1="173.14" y1="765.61" x2="182.66" y2="625.69" stroke="#000" stroke-width="2.0"/>
<line x1="183.34" y1="625.69" x2="192.76" y2="766.01" stroke="#000" stroke-width="2.0"/>
<line x1="193.45" y1="766.01" x2="202.65" y2="636.19" stroke="#000" stroke-width="2.0"/>
<line x1="203.38" y1="636.19" x2="212.72" y2="759.01" stroke="#000" stroke-width="2.0"/>
<line x1="213.51" y1="759.02" x2="222.89" y2="644.98" stroke="#000" stroke-width="2.0"/>
<line x1="223.7" y1="644.98" x2="233" y2="762.12" stroke="#000" stroke-width="2.0"/>
<line x1="233.77" y1="762.11" x2="242.93" y2="638.99" stroke="#000" stroke-width="2.0"/>
<line x1="243.67" y1="638.99" x2="253.03" y2="764.21" stroke="#000" stroke-width="2.0"/>
<line x1="253.74" y1="764.21" x2="262.86" y2="630.59" stroke="#000" stroke-width="2.0"/>
<line x1="263.56" y1="630.59" x2="273.34" y2="765.01" stroke="#000" stroke-width="2.0"/>
<line x1="274.05" y1="765.01" x2="283.15" y2="634.39" stroke="#000" stroke-width="2.0"/>
<rect x="78.6" y="618.6" width="7" height="7" fill="#000"/>
<rect x="88.9" y="753" width="7" height="7" fill="#000"/>
<rect x="98.9" y="616.8" width="7" height="7" fill="#000"/>
<rect x="109.2" y="766.3" width="7" height="7" fill="#000"/>
<rect x="118.9" y="612.3" width="7" height="7" fill="#000"/>
<rect x="129.1" y="763.6" width="7" height="7" fill="#000"/>
<rect x="139.2" y="620" width="7" height="7" fill="#000"/>
<rect x="149.5" y="764.2" width="7" height="7" fill="#000"/>
<rect x="159.2" y="620" width="7" height="7" fill="#000"/>
<rect x="169.3" y="767.1" width="7" height="7" fill="#000"/>
<rect x="179.5" y="617.2" width="7" height="7" fill="#000"/>
<rect x="189.6" y="767.5" width="7" height="7" fill="#000"/>
<rect x="199.5" y="627.7" width="7" height="7" fill="#000"/>
<rect x="209.6" y="760.5" width="7" height="7" fill="#000"/>
<rect x="219.8" y="636.5" width="7" height="7" fill="#000"/>
<rect x="229.9" y="763.6" width="7" height="7" fill="#000"/>
<rect x="239.8" y="630.5" width="7" height="7" fill="#000"/>
<rect x="249.9" y="765.7" width="7" height="7" fill="#000"/>
<rect x="259.7" y="622.1" width="7" height="7" fill="#000"/>
<rect x="270.2" y="766.5" width="7" height="7" fill="#000"/>
<rect x="280" y="625.9" width="7" height="7" fill="#000"/>
<text x="30" y="694.6" font-size="22" text-anchor="middle" transform="rotate(-90 30 694.6)" fill="#000" letter-spacing="-0.32">Abs. at 617 nm</text>
<text x="182.9" y="831.8" font-size="22" text-anchor="middle" fill="#000" letter-spacing="-0.15">Cycle number</text>
<text x="2.2" y="594.8" font-size="24" text-anchor="start" fill="#000">E</text>
<line x1="436.1" y1="600.9" x2="436.1" y2="790.3" stroke="#000" stroke-width="2.0"/>
<line x1="435.1" y1="789.3" x2="657.6" y2="789.3" stroke="#000" stroke-width="2.0"/>
<line x1="432.7" y1="785.6" x2="436.1" y2="785.6" stroke="#000" stroke-width="1.6"/>
<line x1="433.5" y1="748.5" x2="436.1" y2="748.5" stroke="#000" stroke-width="1.6"/>
<line x1="432.7" y1="711.4" x2="436.1" y2="711.4" stroke="#000" stroke-width="1.6"/>
<line x1="433.5" y1="674.3" x2="436.1" y2="674.3" stroke="#000" stroke-width="1.6"/>
<line x1="432.7" y1="637.2" x2="436.1" y2="637.2" stroke="#000" stroke-width="1.6"/>
<line x1="446.1" y1="789.3" x2="446.1" y2="792.7" stroke="#000" stroke-width="1.6"/>
<line x1="466.18" y1="789.3" x2="466.18" y2="791.9" stroke="#000" stroke-width="1.6"/>
<line x1="486.26" y1="789.3" x2="486.26" y2="792.7" stroke="#000" stroke-width="1.6"/>
<line x1="506.34" y1="789.3" x2="506.34" y2="791.9" stroke="#000" stroke-width="1.6"/>
<line x1="526.42" y1="789.3" x2="526.42" y2="792.7" stroke="#000" stroke-width="1.6"/>
<line x1="546.5" y1="789.3" x2="546.5" y2="791.9" stroke="#000" stroke-width="1.6"/>
<line x1="566.58" y1="789.3" x2="566.58" y2="792.7" stroke="#000" stroke-width="1.6"/>
<line x1="586.66" y1="789.3" x2="586.66" y2="791.9" stroke="#000" stroke-width="1.6"/>
<line x1="606.74" y1="789.3" x2="606.74" y2="792.7" stroke="#000" stroke-width="1.6"/>
<line x1="626.82" y1="789.3" x2="626.82" y2="791.9" stroke="#000" stroke-width="1.6"/>
<line x1="646.9" y1="789.3" x2="646.9" y2="792.7" stroke="#000" stroke-width="1.6"/>
<text x="429.1" y="792.6" font-size="22" text-anchor="end" fill="#000" letter-spacing="-0.6">0.0</text>
<text x="429.1" y="718.4" font-size="22" text-anchor="end" fill="#000" letter-spacing="-0.6">0.2</text>
<text x="429.1" y="644.2" font-size="22" text-anchor="end" fill="#000" letter-spacing="-0.6">0.4</text>
<text x="446.1" y="812.9" font-size="22" text-anchor="middle" fill="#000" letter-spacing="-0.2">0</text>
<text x="486.26" y="812.9" font-size="22" text-anchor="middle" fill="#000" letter-spacing="-0.2">2</text>
<text x="526.42" y="812.9" font-size="22" text-anchor="middle" fill="#000" letter-spacing="-0.2">4</text>
<text x="566.58" y="812.9" font-size="22" text-anchor="middle" fill="#000" letter-spacing="-0.2">6</text>
<text x="606.74" y="812.9" font-size="22" text-anchor="middle" fill="#000" letter-spacing="-0.2">8</text>
<text x="646.9" y="812.9" font-size="22" text-anchor="middle" fill="#000" letter-spacing="-0.2">10</text>
<line x1="446.46" y1="628.49" x2="455.84" y2="759.51" stroke="#000" stroke-width="2.0"/>
<line x1="456.59" y1="759.52" x2="465.91" y2="639.58" stroke="#000" stroke-width="2.0"/>
<line x1="466.66" y1="639.59" x2="475.94" y2="770.01" stroke="#000" stroke-width="2.0"/>
<line x1="476.64" y1="770.01" x2="486.06" y2="630.49" stroke="#000" stroke-width="2.0"/>
<line x1="486.74" y1="630.49" x2="496.16" y2="770.61" stroke="#000" stroke-width="2.0"/>
<line x1="496.84" y1="770.61" x2="506.26" y2="631.89" stroke="#000" stroke-width="2.0"/>
<line x1="506.94" y1="631.89" x2="516.26" y2="768.61" stroke="#000" stroke-width="2.0"/>
<line x1="516.96" y1="768.61" x2="526.34" y2="639.29" stroke="#000" stroke-width="2.0"/>
<line x1="527.04" y1="639.29" x2="536.06" y2="769.61" stroke="#000" stroke-width="2.0"/>
<line x1="536.75" y1="769.61" x2="546.15" y2="636.59" stroke="#000" stroke-width="2.0"/>
<line x1="546.84" y1="636.59" x2="555.96" y2="770.01" stroke="#000" stroke-width="2.0"/>
<line x1="556.66" y1="770.01" x2="565.94" y2="639.89" stroke="#000" stroke-width="2.0"/>
<line x1="566.66" y1="639.89" x2="576.04" y2="771.01" stroke="#000" stroke-width="2.0"/>
<line x1="576.75" y1="771.01" x2="586.15" y2="637.19" stroke="#000" stroke-width="2.0"/>
<line x1="586.85" y1="637.19" x2="596.25" y2="772.01" stroke="#000" stroke-width="2.0"/>
<line x1="596.95" y1="772.01" x2="606.25" y2="637.59" stroke="#000" stroke-width="2.0"/>
<line x1="606.95" y1="637.59" x2="616.35" y2="771.31" stroke="#000" stroke-width="2.0"/>
<line x1="617.06" y1="771.31" x2="626.44" y2="640.29" stroke="#000" stroke-width="2.0"/>
<line x1="627.14" y1="640.29" x2="636.16" y2="773.61" stroke="#000" stroke-width="2.0"/>
<line x1="636.85" y1="773.61" x2="646.55" y2="635.59" stroke="#000" stroke-width="2.0"/>
<rect x="442.6" y="620" width="7" height="7" fill="#000"/>
<rect x="452.7" y="761" width="7" height="7" fill="#000"/>
<rect x="462.8" y="631.1" width="7" height="7" fill="#000"/>
<rect x="472.8" y="771.5" width="7" height="7" fill="#000"/>
<rect x="482.9" y="622" width="7" height="7" fill="#000"/>
<rect x="493" y="772.1" width="7" height="7" fill="#000"/>
<rect x="503.1" y="623.4" width="7" height="7" fill="#000"/>
<rect x="513.1" y="770.1" width="7" height="7" fill="#000"/>
<rect x="523.2" y="630.8" width="7" height="7" fill="#000"/>
<rect x="532.9" y="771.1" width="7" height="7" fill="#000"/>
<rect x="543" y="628.1" width="7" height="7" fill="#000"/>
<rect x="552.8" y="771.5" width="7" height="7" fill="#000"/>
<rect x="562.8" y="631.4" width="7" height="7" fill="#000"/>
<rect x="572.9" y="772.5" width="7" height="7" fill="#000"/>
<rect x="583" y="628.7" width="7" height="7" fill="#000"/>
<rect x="593.1" y="773.5" width="7" height="7" fill="#000"/>
<rect x="603.1" y="629.1" width="7" height="7" fill="#000"/>
<rect x="613.2" y="772.8" width="7" height="7" fill="#000"/>
<rect x="623.3" y="631.8" width="7" height="7" fill="#000"/>
<rect x="633" y="775.1" width="7" height="7" fill="#000"/>
<rect x="643.4" y="627.1" width="7" height="7" fill="#000"/>
<text x="394.4" y="695.5" font-size="22" text-anchor="middle" transform="rotate(-90 394.4 695.5)" fill="#000" letter-spacing="-0.32">Abs. at 607 nm</text>
<text x="547.2" y="831.2" font-size="22" text-anchor="middle" fill="#000" letter-spacing="-0.25">Cycle number</text>
<text x="375.2" y="590.2" font-size="24" text-anchor="start" fill="#000">F</text>
</svg>
</body></html>
